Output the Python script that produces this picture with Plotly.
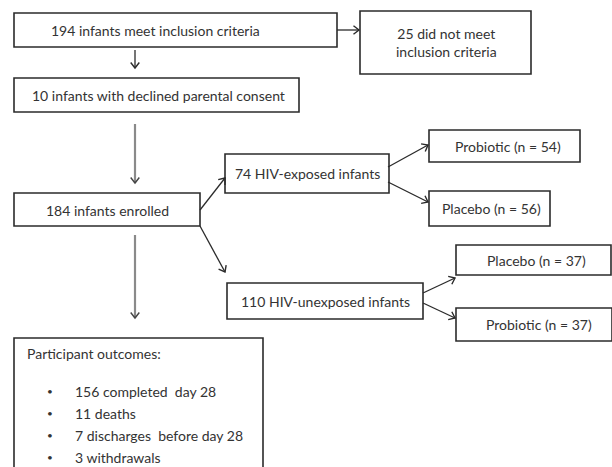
import math
import plotly.graph_objects as go

# ---- data (flow counts and labels) ----
node_labels = [
    "194 infants meet inclusion criteria",
    "25 did not meet<br>inclusion criteria",
    "10 infants with declined parental consent",
    "184 infants enrolled",
    "74 HIV-exposed infants",
    "Probiotic (n = 54)",
    "Placebo (n = 56)",
    "110 HIV-unexposed infants",
    "Placebo (n = 37)",
    "Probiotic (n = 37)",
]
outcome_title = "Participant outcomes:"
outcome_items = [
    "156 completed  day 28",
    "11 deaths",
    "7 discharges  before day 28",
    "3 withdrawals",
]

# ---- diagram layout (pixel space, y downward) ----
boxes = [  # x0, x1, y0, y1, text x, text y
    (14, 337, 13, 47, 155, 30),
    (360, 531, 11, 74, 446, 42),
    (14, 299, 78, 112, 158, 95),
    (14, 200, 193, 226, 107, 210),
    (225, 389, 154, 193, 307, 173),
    (429, 580, 130, 162, 508, 146),
    (429, 550, 191, 226, 491, 208),
    (227, 423, 283, 319, 325, 301),
    (456, 611, 245, 275, 536, 260),
    (456, 612, 308, 341, 539, 324),
]
outcome_box = (14, 263, 338, 480)
outcome_rows_y = [391, 413, 435, 457]

arrows_dark = [
    ((337, 30), (359, 30)),
    ((135, 50), (135, 68)),
    ((200, 210), (225, 178)),
    ((200, 226), (225, 272)),
    ((388, 167), (428, 145)),
    ((388, 182), (428, 202)),
    ((423, 293), (455, 278)),
    ((423, 303), (455, 318)),
]
arrows_gray = [
    ((135, 124), (135, 183)),
    ((135, 235), (135, 318)),
]

W, H = 612, 467
FONT = "Lato"
FS = 14
TXT = "#333333"
LINE = "#2b2b2b"

fig = go.Figure()


def head(p0, p1, L=7, ang=38):
    dx, dy = p1[0] - p0[0], p1[1] - p0[1]
    n = math.hypot(dx, dy)
    ux, uy = dx / n, dy / n
    pts = []
    for s in (1, -1):
        a = math.radians(ang) * s
        rx = ux * math.cos(a) - uy * math.sin(a)
        ry = ux * math.sin(a) + uy * math.cos(a)
        pts.append((p1[0] - L * rx, p1[1] - L * ry))
    return pts


def add_arrows(arrs, shaft_color, head_color, width):
    xs, ys, hx, hy = [], [], [], []
    for p0, p1 in arrs:
        xs += [p0[0], p1[0], None]
        ys += [p0[1], p1[1], None]
        a, b = head(p0, p1)
        hx += [a[0], p1[0], b[0], None]
        hy += [a[1], p1[1], b[1], None]
    fig.add_trace(go.Scatter(x=xs, y=ys, mode="lines",
                             line=dict(color=shaft_color, width=width),
                             hoverinfo="skip", showlegend=False))
    fig.add_trace(go.Scatter(x=hx, y=hy, mode="lines",
                             line=dict(color=head_color, width=1.4),
                             hoverinfo="skip", showlegend=False))


add_arrows(arrows_dark, LINE, LINE, 1.3)
add_arrows(arrows_gray, "#8a8a8a", "#444444", 2.2)

shapes = []
for (x0, x1, y0, y1, _, _) in boxes:
    shapes.append(dict(type="rect", xref="x", yref="y", x0=x0, x1=x1, y0=y0, y1=y1,
                       line=dict(color=LINE, width=1.6), fillcolor="rgba(0,0,0,0)"))
ox0, ox1, oy0, oy1 = outcome_box
shapes.append(dict(type="rect", xref="x", yref="y", x0=ox0, x1=ox1, y0=oy0, y1=oy1,
                   line=dict(color=LINE, width=1.6), fillcolor="rgba(0,0,0,0)"))

annotations = []
for label, (_, _, _, _, tx, ty) in zip(node_labels, boxes):
    annotations.append(dict(x=tx, y=ty, xref="x", yref="y", text=label, showarrow=False,
                            xanchor="center", yanchor="middle",
                            font=dict(family=FONT, size=FS, color=TXT)))
annotations.append(dict(x=25, y=353, xref="x", yref="y", text=outcome_title, showarrow=False,
                        xanchor="left", yanchor="middle",
                        font=dict(family=FONT, size=FS, color=TXT)))
for item, yy in zip(outcome_items, outcome_rows_y):
    annotations.append(dict(x=50, y=yy, xref="x", yref="y", text="•", showarrow=False,
                            xanchor="center", yanchor="middle",
                            font=dict(family=FONT, size=10, color=TXT)))
    annotations.append(dict(x=73, y=yy, xref="x", yref="y", text=item, showarrow=False,
                            xanchor="left", yanchor="middle",
                            font=dict(family=FONT, size=FS, color=TXT)))

fig.update_layout(
    width=W, height=H,
    margin=dict(l=0, r=0, t=0, b=0),
    paper_bgcolor="white", plot_bgcolor="white",
    xaxis=dict(range=[0, W], visible=False, fixedrange=True),
    yaxis=dict(range=[H, 0], visible=False, fixedrange=True),
    shapes=shapes, annotations=annotations,
)

fig.write_html(
    "out.html",
    config={"displayModeBar": False},
    post_script="document.body.style.margin='0';document.body.style.overflow='hidden';",
)
